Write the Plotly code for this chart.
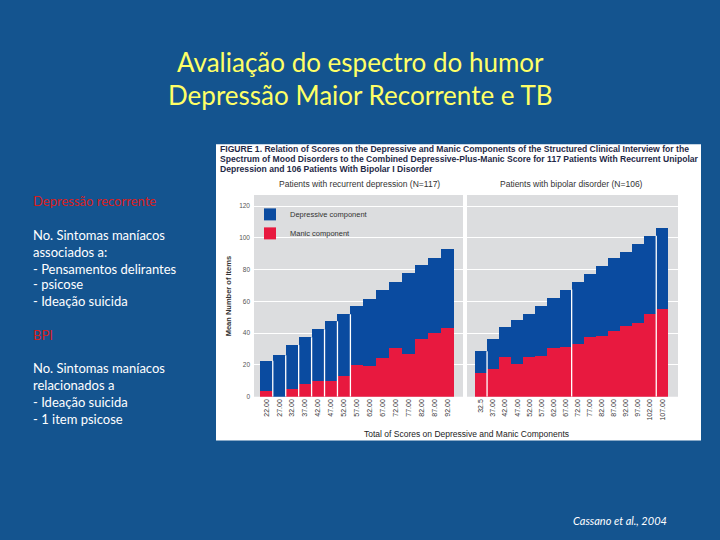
import plotly.graph_objects as go

# ---------------- data ----------------
dep_labels = ["22.00", "27.00", "32.00", "37.00", "42.00", "47.00", "52.00", "57.00",
              "62.00", "67.00", "72.00", "77.00", "82.00", "87.00", "92.00"]
dep_manic = [3.7, 0.0, 5.0, 8.3, 10.2, 10.2, 13.3, 20.2, 19.6, 24.6, 30.8, 26.9, 36.5, 40.2, 43.3]
dep_depressive = [19.0, 26.2, 27.5, 29.2, 32.3, 37.3, 38.7, 36.7, 41.7, 42.9, 41.7, 51.1, 46.5, 47.3, 50.0]

bip_labels = ["32.5", "37.00", "42.00", "47.00", "52.00", "57.00", "62.00", "67.00",
              "72.00", "77.00", "82.00", "87.00", "92.00", "97.00", "102.00", "107.00"]
bip_manic = [15.0, 17.5, 25.0, 20.6, 25.0, 25.6, 30.6, 31.2, 33.1, 37.5, 38.1, 41.2, 44.4, 46.2, 51.9, 55.0]
bip_depressive = [13.7, 18.7, 18.7, 27.5, 26.9, 31.3, 31.3, 36.3, 39.4, 40.0, 44.4, 46.3, 46.9, 50.0, 49.4, 51.2]

# indices after which a thin white separator is drawn
dep_separators = [0, 1, 2, 3, 4, 5, 6]
bip_separators = [0, 7, 14]

y_ticks = [0, 20, 40, 60, 80, 100, 120]

# ---------------- style ----------------
SLIDE_BG = "#14548f"
BLUE = "#0a4ba0"
RED = "#e8193f"
PANEL = "#dcdddf"
W, H = 720, 540


def px(x):
    return x / W


def py(y):
    return 1 - y / H


fig = go.Figure()

fig.add_trace(go.Bar(x=dep_labels, y=dep_manic, name="Manic component",
                     marker=dict(color=RED, line=dict(width=0)),
                     xaxis="x", yaxis="y", legendrank=2))
fig.add_trace(go.Bar(x=dep_labels, y=dep_depressive, name="Depressive component",
                     marker=dict(color=BLUE, line=dict(width=0)),
                     xaxis="x", yaxis="y", legendrank=1))
fig.add_trace(go.Bar(x=bip_labels, y=bip_manic, name="Manic component",
                     marker=dict(color=RED, line=dict(width=0)), showlegend=False,
                     xaxis="x2", yaxis="y2"))
fig.add_trace(go.Bar(x=bip_labels, y=bip_depressive, name="Depressive component",
                     marker=dict(color=BLUE, line=dict(width=0)), showlegend=False,
                     xaxis="x2", yaxis="y2"))

shapes = [
    # white figure card
    dict(type="rect", xref="paper", yref="paper", x0=px(216), x1=px(701),
         y0=py(443), y1=py(145), fillcolor="white", line=dict(width=0), layer="below"),
    # gray panels
    dict(type="rect", xref="x domain", yref="y domain", x0=0, x1=1, y0=0, y1=1,
         fillcolor=PANEL, line=dict(width=0), layer="below"),
    dict(type="rect", xref="x2 domain", yref="y2 domain", x0=0, x1=1, y0=0, y1=1,
         fillcolor=PANEL, line=dict(width=0), layer="below"),
]

for i in dep_separators:
    top = min(dep_manic[i] + dep_depressive[i], dep_manic[i + 1] + dep_depressive[i + 1])
    shapes.append(dict(type="line", xref="x", yref="y", x0=i + 0.5, x1=i + 0.5, y0=0, y1=top,
                       line=dict(color="white", width=1.3)))
for i in bip_separators:
    top = min(bip_manic[i] + bip_depressive[i], bip_manic[i + 1] + bip_depressive[i + 1])
    shapes.append(dict(type="line", xref="x2", yref="y2", x0=i + 0.5, x1=i + 0.5, y0=0, y1=top,
                       line=dict(color="white", width=1.3)))

annotations = []


def ann(text, x, y, size, color, xanchor="left", family="Lato", **kw):
    annotations.append(dict(text=text, x=px(x), y=py(y), xref="paper", yref="paper",
                            xanchor=xanchor, yanchor="middle", showarrow=False,
                            font=dict(size=size, color=color, family=family), **kw))


# slide title
ann("Avaliação do espectro do humor", 360, 62, 26, "#ffff66", xanchor="center")
ann("Depressão Maior Recorrente e TB", 360, 96, 26, "#ffff66", xanchor="center")

# left side text
left_lines = [
    ("Depressão recorrente", 202, "#d81e1e"),
    ("No. Sintomas maníacos", 236, "white"),
    ("associados a:", 253, "white"),
    ("- Pensamentos delirantes", 270, "white"),
    ("- psicose", 286, "white"),
    ("- Ideação suicida", 303, "white"),
    ("BPI", 337, "#d81e1e"),
    ("No. Sintomas maníacos", 370, "white"),
    ("relacionados a", 387, "white"),
    ("- Ideação suicida", 404, "white"),
    ("- 1 item psicose", 421, "white"),
]
for t, y, c in left_lines:
    ann(t, 31, y, 13, c)

# citation
ann("<i>Cassano et al., 2004</i>", 571, 523, 11, "white")

# figure caption
caption = ["FIGURE 1. Relation of Scores on the Depressive and Manic Components of the Structured Clinical Interview for the",
           "Spectrum of Mood Disorders to the Combined Depressive-Plus-Manic Score for 117 Patients With Recurrent Unipolar",
           "Depression and 106 Patients With Bipolar I Disorder"]
for k, line in enumerate(caption):
    ann("<b>" + line + "</b>", 218, 150 + 9.8 * k, 8.6, "#1f2a48", family="Liberation Sans")

# panel titles
ann("Patients with recurrent depression (N=117)", 359, 185, 8.5, "#333333",
    xanchor="center", family="Liberation Sans")
ann("Patients with bipolar disorder (N=106)", 571, 185, 8.5, "#333333",
    xanchor="center", family="Liberation Sans")

# axis titles
annotations.append(dict(text="<b>Mean Number of Items</b>", x=px(228), y=py(298), xref="paper",
                        yref="paper", xanchor="center", yanchor="middle", textangle=-90,
                        showarrow=False, font=dict(size=7.5, color="#333333", family="Liberation Sans")))
ann("Total of Scores on Depressive and Manic Components", 466, 436, 8.5, "#222222",
    xanchor="center", family="Liberation Sans")

ydom = [py(399), py(196)]
axis_common = dict(showline=False, zeroline=False, ticks="", tickangle=-90,
                   tickfont=dict(size=7, color="#333333", family="Liberation Sans"),
                   type="category", fixedrange=True)
yaxis_common = dict(range=[0, 127], tickvals=y_ticks, showgrid=True, gridcolor="white",
                    gridwidth=1.3, zeroline=False, showline=False, ticks="", domain=ydom,
                    fixedrange=True)

fig.update_layout(
    width=W, height=H,
    margin=dict(l=0, r=0, t=0, b=0),
    paper_bgcolor=SLIDE_BG,
    plot_bgcolor="rgba(0,0,0,0)",
    barmode="stack", bargap=0,
    xaxis=dict(domain=[px(254), px(463)], range=[-0.95, 15.2], anchor="y", **axis_common),
    xaxis2=dict(domain=[px(467), px(678)], range=[-1.16, 16.3], anchor="y2", **axis_common),
    yaxis=dict(anchor="x", tickfont=dict(size=6.5, color="#555555", family="Liberation Sans"),
               ticklabelstandoff=3, **yaxis_common),
    yaxis2=dict(anchor="x2", showticklabels=False, **yaxis_common),
    showlegend=True,
    legend=dict(x=px(250), y=py(201), xanchor="left", yanchor="top",
                bgcolor="rgba(0,0,0,0)", traceorder="normal",
                font=dict(size=7.5, color="#333333", family="Liberation Sans"),
                itemwidth=30, tracegroupgap=0),
    shapes=shapes,
    annotations=annotations,
)

fig.write_html("out.html", config={"displayModeBar": False},
               post_script="document.body.style.margin='0';document.body.style.overflow='hidden';")
